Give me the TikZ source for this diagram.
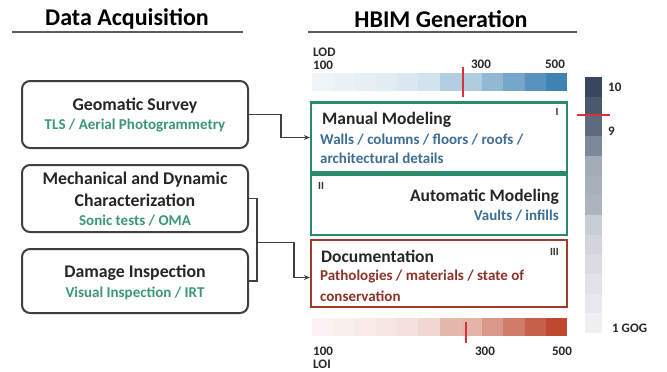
\documentclass[tikz,border=0pt]{standalone}
\usepackage{fontspec}
\setmainfont{Carlito}
\usetikzlibrary{arrows.meta,calc}
\definecolor{boxgray}{HTML}{404040}
\definecolor{ulgray}{HTML}{5A5A70}
\definecolor{grnline}{HTML}{2A8A6C}
\definecolor{grntext}{HTML}{3C9678}
\definecolor{bluetext}{HTML}{3C6E96}
\definecolor{redline}{HTML}{A03C28}
\definecolor{redtext}{HTML}{8C3228}
\definecolor{lodblue}{HTML}{2E78AC}
\definecolor{loired}{HTML}{B8391C}
\definecolor{markred}{HTML}{D9303A}
\newcommand{\fs}[1]{\fontsize{#1}{#1}\selectfont\bfseries}
\tikzset{
  titletext/.style={font=\fs{24}, text=black, inner sep=0pt},
  ulline/.style={draw=ulgray, line width=1.5pt},
  srcbox/.style={draw=boxgray, line width=2pt, rounded corners=8pt, minimum width=226pt, inner sep=0pt},
  srctitle/.style={font=\fs{17.8}, text=black!85, inner sep=0pt},
  srcsub/.style={font=\fs{15}, text=grntext, inner sep=0pt},
  modbox/.style={draw=grnline, line width=2.2pt, minimum width=256pt, inner sep=0pt},
  docbox/.style={draw=redline, line width=2.2pt, minimum width=256pt, inner sep=0pt},
  modtitle/.style={font=\fs{17.5}, text=black!85, inner sep=0pt},
  bluesub/.style={font=\fs{15}, text=bluetext, inner sep=0pt},
  redsub/.style={font=\fs{15}, text=redtext, inner sep=0pt},
  roman/.style={font=\fs{11}, text=black!80, inner sep=0pt},
  scaletext/.style={font=\fs{13}, text=black!85, inner sep=0pt},
  conn/.style={draw=boxgray, line width=1.4pt},
  arr/.style={conn, -{Stealth[length=6pt,width=5pt]}},
  redmark/.style={draw=markred, line width=1.6pt}
}
\begin{document}
\begin{tikzpicture}[x=1pt,y=-1pt]
\useasboundingbox (0,0) rectangle (667,372);
\fill[white] (0,0) rectangle (667,372);

% titles
\node[titletext] (t1) at (127,19) {Data Acquisition};
\node[titletext] (t2) at (441,19) {HBIM Generation};
\draw[ulline] (12,32) -- (243,32);
\draw[ulline] (308,32) -- (577,32);

% source boxes
\node[srcbox, minimum height=67pt] (geo) at (135,114.5) {};
\node[srcbox, minimum height=67pt] (mech) at (135,198.5) {};
\node[srcbox, minimum height=64pt] (dam) at (135,281) {};
\node[srctitle] (geot) at (135,106) {Geomatic Survey};
\node[srcsub] (geos) at (135,126) {TLS / Aerial Photogrammetry};
\node[srctitle] (mecht1) at (135,180) {Mechanical and Dynamic};
\node[srctitle] (mecht2) at (135,200) {Characterization};
\node[srcsub] (mechs) at (135,221) {Sonic tests / OMA};
\node[srctitle] (damt) at (135,273) {Damage Inspection};
\node[srcsub] (dams) at (135,293) {Visual Inspection / IRT};

% LOD bar
\foreach \p [count=\i from 0] in {8,10,12,14,17,21,36,38,52,66,80,92}{
  \fill[lodblue!\p!white] (312+21.25*\i,73) rectangle (312+21.25*\i+21.25,91);
}
\node[scaletext, anchor=west] (lodl) at (313,52) {LOD};
\node[scaletext, anchor=west] (lod1) at (313,65) {100};
\node[scaletext] (lod3) at (481,64) {300};
\node[scaletext] (lod5) at (555,64) {500};
\draw[redmark] (463,67) -- (463,97);

% model boxes
\node[modbox, minimum height=70pt] (man) at (439,137.5) {};
\node[modbox, minimum height=60pt] (auto) at (439,205) {};
\node[docbox, minimum height=67pt] (doc) at (439,273.5) {};

\node[modtitle, anchor=west] (mant) at (322,120) {Manual Modeling};
\node[bluesub, anchor=west] (mans1) at (320,140) {Walls / columns / floors / roofs /};
\node[bluesub, anchor=west] (mans2) at (320,158) {architectural details};
\node[roman] (r1) at (557,112) {I};

\node[roman, anchor=west] (r2) at (318,186) {II};
\node[modtitle, anchor=east] (autot) at (559,197) {Automatic Modeling};
\node[bluesub, anchor=east] (autos) at (559,216) {Vaults / infills};

\node[modtitle, anchor=west] (doct) at (321,256) {Documentation};
\node[redsub, anchor=west] (docs1) at (320,277) {Pathologies / materials / state of};
\node[redsub, anchor=west] (docs2) at (320,296) {conservation};
\node[roman, anchor=east] (r3) at (559,252) {III};

% LOI bar
\foreach \p [count=\i from 0] in {6,8,10,12,15,20,36,38,52,66,80,92}{
  \fill[loired!\p!white] (312+21.25*\i,318) rectangle (312+21.25*\i+21.25,336);
}
\node[scaletext, anchor=west] (loi1) at (313,351) {100};
\node[scaletext, anchor=west] (loil) at (313,364) {LOI};
\node[scaletext] (loi3) at (485,351) {300};
\node[scaletext] (loi5) at (562,351) {500};
\draw[redmark] (466,322) -- (466,343);

% GOG bar
\foreach \c [count=\i from 0] in {38475C,4A596E,5D6B7E,7D899A,A3ABB7,A8B0BB,ADB4BF,C9CED5,D2D6DC,D9DCE1,E0E3E7,E7E9EC,EEF0F2}{
  \definecolor{segc}{HTML}{\c}
  \fill[segc] (585,77+19.7*\i) rectangle (602,77+19.7*\i+19.7);
}
\node[scaletext, anchor=west] (g10) at (608,87) {10};
\node[scaletext, anchor=west] (g9) at (608,131) {9};
\node[scaletext, anchor=west] (g1) at (612,328) {1 GOG};
\draw[redmark] (577,115) -- (610,115);

% connectors
\draw[arr] (geo.east) -- ++(32,0) |- (man.west);
\draw[conn] (mech.east) -- ++(8,0) coordinate (m1) |- (dam.east);
\coordinate (mid) at ($(m1)!0.53!(m1 |- dam.east)$);
\coordinate (dj) at ($(doc.west)+(0,4)$);
\draw[arr] (mid) -- ++(37,0) |- (dj);
\end{tikzpicture}
\end{document}
